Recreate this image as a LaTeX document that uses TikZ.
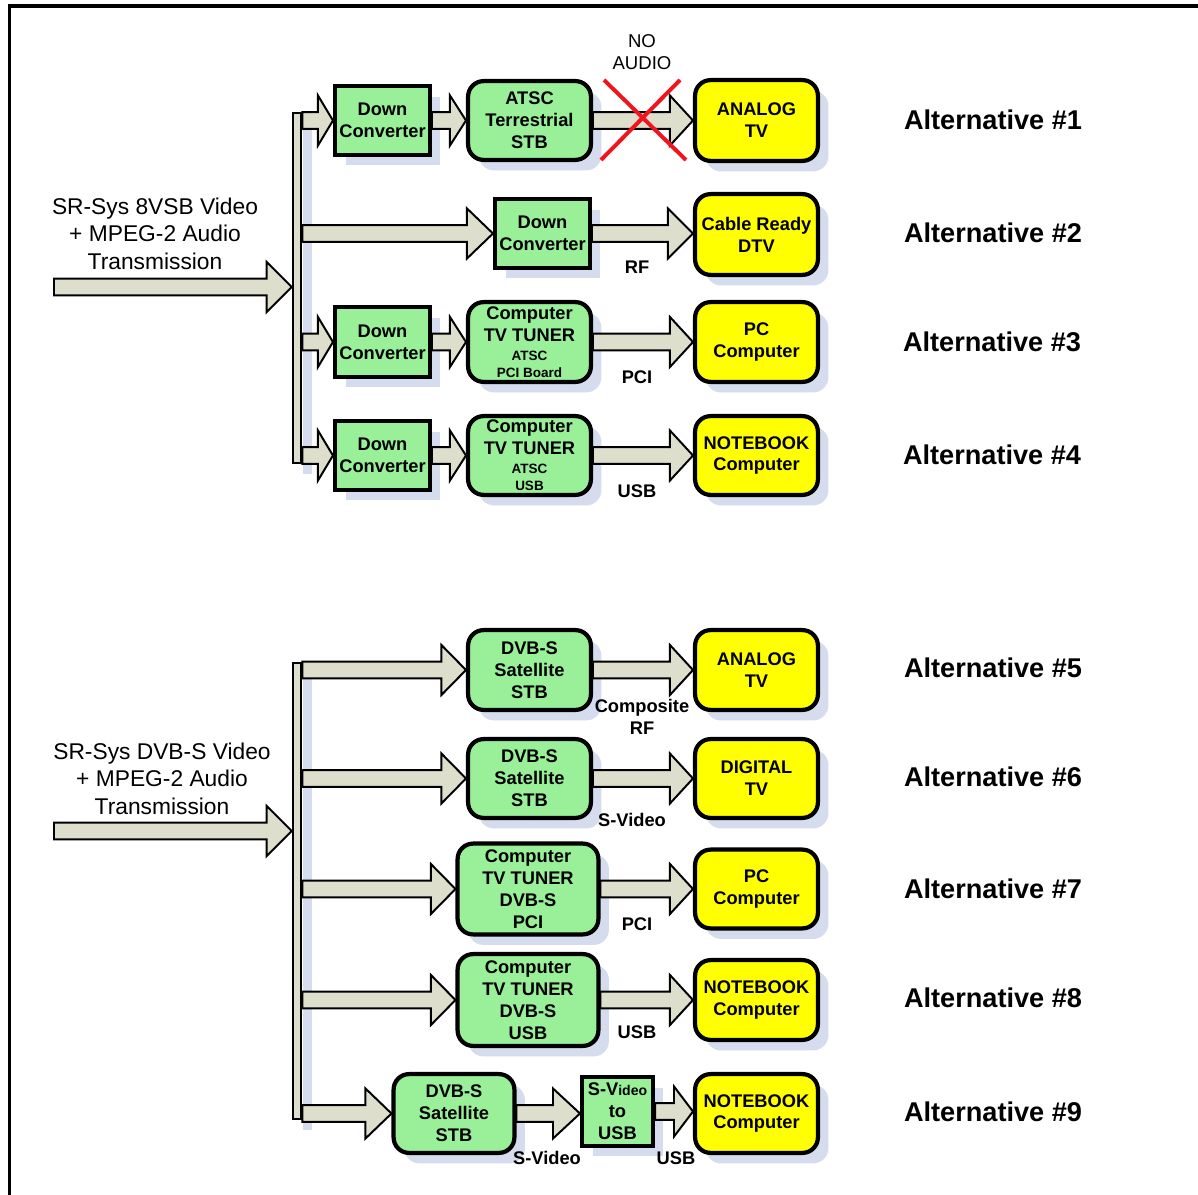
\documentclass[tikz,border=0pt]{standalone}
\usepackage{fontspec}
\setmainfont{Liberation Sans}
\usetikzlibrary{calc,shadows}
\definecolor{boxgreen}{RGB}{153,240,153}
\definecolor{boxyellow}{RGB}{255,255,0}
\definecolor{arrfill}{RGB}{221,222,204}
\definecolor{shadowc}{RGB}{212,220,238}
\definecolor{xred}{RGB}{240,20,30}
\newcommand\fs[2]{\fontsize{#1}{#2}\selectfont}
\tikzset{
  boxbase/.style={draw=black, line width=3pt, inner sep=0pt, align=center,
    font=\fs{13}{15.6}\bfseries,
    general shadow={fill=shadowc, shadow xshift=7.5pt, shadow yshift=-7.5pt}},
  gsq/.style={boxbase, fill=boxgreen},
  grnd/.style={boxbase, fill=boxgreen, rounded corners=11pt},
  yrnd/.style={boxbase, fill=boxyellow, rounded corners=11pt},
  busst/.style={draw=black, line width=1.4pt, fill=arrfill, inner sep=0pt,
    general shadow={fill=shadowc, shadow xshift=7.5pt, shadow yshift=-7.5pt}},
  fatarr/.style={draw=black, line width=1.4pt, fill=arrfill, line join=miter},
  lab/.style={font=\fs{13}{15.6}\bfseries, align=center, inner sep=0pt},
  alt/.style={font=\fs{19.3}{23}\bfseries, inner sep=0pt},
  intext/.style={font=\fs{16.2}{19.6}, align=center, inner sep=0pt},
  noaud/.style={font=\fs{13.2}{15.6}, align=center, inner sep=0pt},
  xline/.style={draw=xred, line width=2.8pt}
}
% #1 style, #2 name, #3 centre, #4 width px, #5 height px, #6 text
\newcommand\bx[6]{\node[#1, minimum width={(#4-4.2)*0.025cm}, minimum height={(#5-4.2)*0.025cm}] (#2) at (#3) {#6};}
% #1 from, #2 to, #3 head length
\newcommand\fatarrow[3]{%
  \draw[fatarr] let \p1=#1, \p2=#2 in
    (\x1,\y1+6pt) -- (\x2-#3,\y1+6pt) -- (\x2-#3,\y1+17.8pt) -- (\x2,\y1)
    -- (\x2-#3,\y1-17.8pt) -- (\x2-#3,\y1-6pt) -- (\x1,\y1-6pt) -- cycle;}
\newcommand\smallt[1]{{\fs{9.6}{11}#1}}
\begin{document}
\begin{tikzpicture}[x=0.025cm,y=-0.025cm]
\useasboundingbox (0,0) rectangle (1198,1195);
\fill[white] (0,0) rectangle (1198,1195);
\draw[line width=2.8pt] (9.5,1210) -- (9.5,6) -- (1210,6);

% ---------- buses ----------
\node[busst, minimum width={8.6*0.025cm}, minimum height={350.6*0.025cm}] (bus1) at (297,288) {};
\node[busst, minimum width={8.6*0.025cm}, minimum height={456.6*0.025cm}] (bus2) at (297,891) {};

% ---------- top section boxes ----------
\bx{gsq}{dc1}{382.5,120.5}{99}{73}{Down\\Converter}
\bx{grnd}{atsc1}{529.5,120.5}{127}{83}{ATSC\\Terrestrial\\STB}
\bx{yrnd}{tv1}{756.5,120.5}{127}{85}{ANALOG\\TV}

\bx{gsq}{dc2}{542.5,233.5}{99}{73}{Down\\Converter}
\bx{yrnd}{dtv2}{756.5,234.5}{127}{85}{Cable Ready\\DTV}

\bx{gsq}{dc3}{382.5,342}{99}{74}{Down\\Converter}
\bx{grnd}{tun3}{529.5,342}{127}{84}{Computer\\TV TUNER\\[-2pt]\smallt{ATSC}\\[-3.5pt]\smallt{PCI Board}}
\bx{yrnd}{pc3}{756.5,342}{127}{84}{PC\\Computer}

\bx{gsq}{dc4}{382.5,455.5}{99}{73}{Down\\Converter}
\bx{grnd}{tun4}{529.5,455.5}{127}{83}{Computer\\TV TUNER\\[-2pt]\smallt{ATSC}\\[-3.5pt]\smallt{USB}}
\bx{yrnd}{nb4}{756.5,455.5}{127}{83}{NOTEBOOK\\Computer}

% ---------- bottom section boxes ----------
\bx{grnd}{stb5}{529.5,670}{127}{84}{DVB-S\\Satellite\\STB}
\bx{yrnd}{tv5}{756.5,670}{127}{84}{ANALOG\\TV}

\bx{grnd}{stb6}{529.5,778.5}{127}{83}{DVB-S\\Satellite\\STB}
\bx{yrnd}{dtv6}{756.5,778.5}{127}{83}{DIGITAL\\TV}

\bx{grnd}{tun7}{528,889}{145}{95}{Computer\\TV TUNER\\DVB-S\\PCI}
\bx{yrnd}{pc7}{756.5,889}{127}{83}{PC\\Computer}

\bx{grnd}{tun8}{528,1000}{145}{96}{Computer\\TV TUNER\\DVB-S\\USB}
\bx{yrnd}{nb8}{756.5,1000}{127}{84}{NOTEBOOK\\Computer}

\bx{grnd}{stb9}{454,1113.5}{125}{83}{DVB-S\\Satellite\\STB}
\bx{gsq}{sv9}{617.5,1111.5}{75}{73}{S-V{\fs{10}{12}ideo}\\to\\USB}
\bx{yrnd}{nb9}{756.5,1113.5}{127}{83}{NOTEBOOK\\Computer}

% ---------- input arrows ----------
\coordinate (src1) at (54,287);
\coordinate (src2) at (54,831);
\fatarrow{(src1)}{(bus1.west)}{17.8pt}
\fatarrow{(src2)}{(bus2.west)}{17.8pt}

% ---------- branch arrows ----------
\fatarrow{(bus1.east |- dc1.west)}{(dc1.west)}{10.7pt}
\fatarrow{(bus1.east |- dc2.west)}{(dc2.west)}{18.5pt}
\fatarrow{(bus1.east |- dc3.west)}{(dc3.west)}{10.7pt}
\fatarrow{(bus1.east |- dc4.west)}{(dc4.west)}{10.7pt}
\fatarrow{(bus2.east |- stb5.west)}{(stb5.west)}{17.5pt}
\fatarrow{(bus2.east |- stb6.west)}{(stb6.west)}{17.5pt}
\fatarrow{(bus2.east |- tun7.west)}{(tun7.west)}{17.5pt}
\fatarrow{(bus2.east |- tun8.west)}{(tun8.west)}{17.5pt}
\fatarrow{(bus2.east |- stb9.west)}{(stb9.west)}{18.5pt}

% ---------- box to box arrows ----------
\fatarrow{(dc1.east)}{(atsc1.west)}{11.4pt}
\fatarrow{(atsc1.east)}{(tv1.west)}{16.4pt}
\fatarrow{(dc2.east)}{(dtv2.west)}{17.8pt}
\fatarrow{(dc3.east)}{(tun3.west)}{11.4pt}
\fatarrow{(tun3.east)}{(pc3.west)}{16.4pt}
\fatarrow{(dc4.east)}{(tun4.west)}{11.4pt}
\fatarrow{(tun4.east)}{(nb4.west)}{16.4pt}
\fatarrow{(stb5.east)}{(tv5.west)}{16.4pt}
\fatarrow{(stb6.east)}{(dtv6.west)}{16.4pt}
\fatarrow{(tun7.east)}{(pc7.west)}{16.4pt}
\fatarrow{(tun8.east)}{(nb8.west)}{16.4pt}
\fatarrow{(stb9.east)}{(sv9.west)}{19.2pt}
\fatarrow{(sv9.east)}{(nb9.west)}{13.5pt}

% ---------- red cross ----------
\coordinate (xa1) at (604,80);
\coordinate (xa2) at (686,160);
\coordinate (xb1) at (680,80);
\coordinate (xb2) at (601,160);
\draw[xline] (xa1) -- (xa2);
\draw[xline] (xb1) -- (xb2);
\node[noaud] (noaudio) at (642,52) {NO\\AUDIO};

% ---------- input texts ----------
\node[intext] (in1) at (155,233.5) {SR-Sys 8VSB Video\\+ MPEG-2 Audio\\Transmission};
\node[intext] (in2) at (162,778.5) {SR-Sys DVB-S Video\\+ MPEG-2 Audio\\Transmission};

% ---------- connector labels ----------
\node[lab] (lrf2) at (637,267) {RF};
\node[lab] (lpci3) at (637,377) {PCI};
\node[lab] (lusb4) at (637,491) {USB};
\node[lab] (lcomp5) at (642,717) {Composite\\RF};
\node[lab] (lsv6) at (632,820) {S-Video};
\node[lab] (lpci7) at (637,924) {PCI};
\node[lab] (lusb8) at (637,1032) {USB};
\node[lab] (lsv9) at (547,1158) {S-Video};
\node[lab] (lusb9) at (676,1158) {USB};

% ---------- alternatives ----------
\node[alt] (alt1) at (993,120) {Alternative \#1};
\node[alt] (alt2) at (993,233) {Alternative \#2};
\node[alt] (alt3) at (992,342) {Alternative \#3};
\node[alt] (alt4) at (992,455) {Alternative \#4};
\node[alt] (alt5) at (993,668) {Alternative \#5};
\node[alt] (alt6) at (993,777) {Alternative \#6};
\node[alt] (alt7) at (993,889) {Alternative \#7};
\node[alt] (alt8) at (993,998) {Alternative \#8};
\node[alt] (alt9) at (993,1112) {Alternative \#9};
\end{tikzpicture}
\end{document}
